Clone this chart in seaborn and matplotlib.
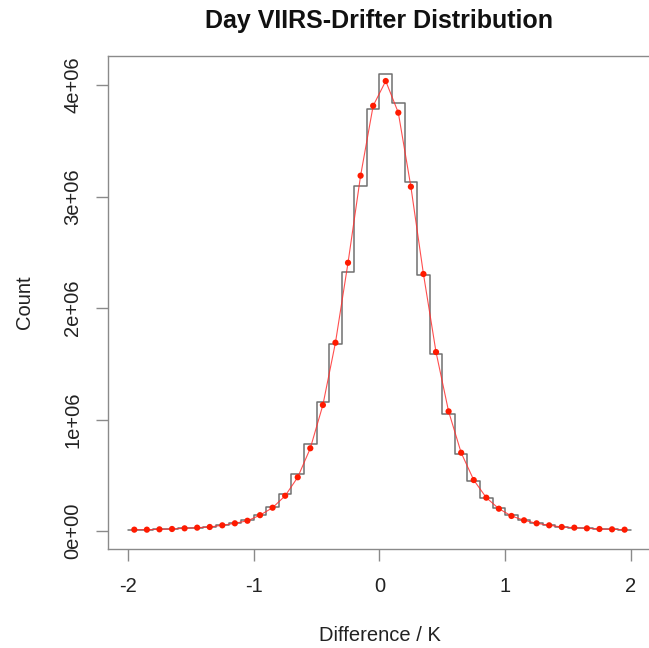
import numpy as np
import pandas as pd
import matplotlib
matplotlib.use("Agg")
import matplotlib.pyplot as plt
import seaborn as sns

# ---- data (counts in units of 1e6) ----
bin_edges = np.linspace(-2.0, 2.0, 41)   # 0.1 K bins from -2 to 2

hist_counts = [0.012, 0.013, 0.016, 0.019, 0.025, 0.031, 0.038, 0.052,
               0.069, 0.099, 0.143, 0.218, 0.335, 0.512, 0.778, 1.158,
               1.677, 2.323, 3.091, 3.785, 4.099, 3.841, 3.127, 2.296,
               1.586, 1.046, 0.691, 0.451, 0.299, 0.204, 0.143, 0.099,
               0.070, 0.052, 0.038, 0.031, 0.025, 0.019, 0.016, 0.013]

point_counts = [0.012, 0.012, 0.015, 0.018, 0.024, 0.030, 0.036, 0.051,
                0.069, 0.092, 0.142, 0.209, 0.316, 0.482, 0.742, 1.130,
                1.689, 2.406, 3.187, 3.814, 4.036, 3.752, 3.088, 2.305,
                1.605, 1.073, 0.702, 0.457, 0.299, 0.200, 0.135, 0.096,
                0.069, 0.051, 0.036, 0.030, 0.024, 0.018, 0.015, 0.012]

x_ticks = [-2, -1, 0, 1, 2]
y_ticks = [0, 1e6, 2e6, 3e6, 4e6]
y_tick_labels = ["0e+00", "1e+06", "2e+06", "3e+06", "4e+06"]

title = "Day VIIRS-Drifter Distribution"
x_label = "Difference / K"
y_label = "Count"

# ---- build tables ----
centers = (bin_edges[:-1] + bin_edges[1:]) / 2
hist_vals = np.array(hist_counts) * 1e6
step_df = pd.DataFrame({"edge": bin_edges,
                        "height": np.append(hist_vals, hist_vals[-1])})
pts_df = pd.DataFrame({"diff": centers, "pts": np.array(point_counts) * 1e6})

sns.set_style("white")
plt.rcParams["font.family"] = ["Liberation Sans", "DejaVu Sans"]

W, H = 649, 648
fig = plt.figure(figsize=(W / 100, H / 100), dpi=100)
left_px, right_px, top_px, bottom_px = 107.9, 651, 55.5, 549
ax = fig.add_axes([left_px / W, 1 - bottom_px / H,
                   (right_px - left_px) / W, (bottom_px - top_px) / H])

sns.lineplot(data=step_df, x="edge", y="height", drawstyle="steps-post",
             color="#707070", linewidth=1.1, ax=ax)
sns.lineplot(data=pts_df, x="diff", y="pts", color="#ff3030", linewidth=0.8,
             alpha=0.85, ax=ax)
sns.scatterplot(data=pts_df, x="diff", y="pts", color="#ff1a00", s=20,
                edgecolor="none", ax=ax, zorder=5)

ax.set_xlim(-2.16, 2.16)
ax.set_ylim(-0.1614e6, 4.265e6)
ax.set_xticks(x_ticks)
ax.set_xticklabels([str(v) for v in x_ticks])
ax.set_yticks(y_ticks)
ax.set_yticklabels(y_tick_labels, rotation=90, va="center")

edge_col = "#8a8a8a"
for side in ["left", "bottom", "top", "right"]:
    ax.spines[side].set_color(edge_col)
    ax.spines[side].set_linewidth(1.0)
ax.tick_params(axis="both", which="both", direction="out", length=8.5,
               width=1.0, color=edge_col, labelsize=14.5, labelcolor="#222222",
               left=True, bottom=True)
ax.tick_params(axis="x", pad=11.5)
ax.tick_params(axis="y", pad=10)

ax.set_xlabel(x_label, fontsize=14.5, color="#222222", labelpad=22)
ax.set_ylabel(y_label, fontsize=14.5, color="#222222", labelpad=21)
ax.set_title(title, fontsize=18, fontweight="bold", color="#111111", pad=20)

fig.savefig("out.png", dpi=100)
